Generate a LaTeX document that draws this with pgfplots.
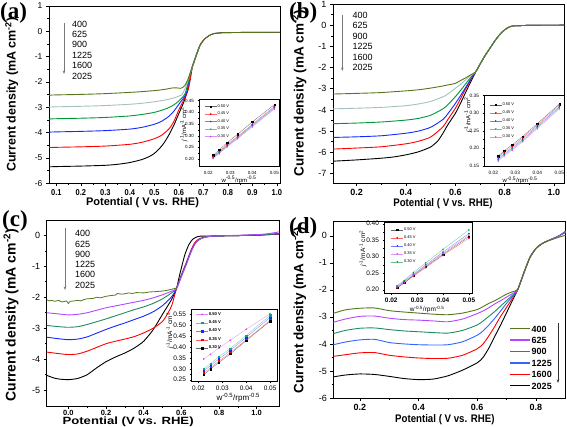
\documentclass[border=0pt]{standalone}
\usepackage{pgfplots}
\pgfplotsset{compat=1.18}
\usetikzlibrary{arrows.meta}
\usepackage{fontspec}
\setmainfont{Liberation Sans}
\newfontfamily\serifb{Liberation Serif}
\newfontfamily\widesans[FakeStretch=1.25]{Liberation Sans}
\newfontfamily\narrowsans[FakeStretch=0.88]{Liberation Sans}
\definecolor{olv}{RGB}{88,118,28}
\definecolor{lgt}{RGB}{165,192,192}
\definecolor{grn}{RGB}{0,150,55}
\definecolor{blu}{RGB}{20,40,255}
\definecolor{rd}{RGB}{255,0,0}
\definecolor{vio}{RGB}{180,70,255}
\definecolor{tea}{RGB}{30,140,95}
\definecolor{blu2}{RGB}{50,100,255}
\definecolor{tealm}{RGB}{0,165,125}
\definecolor{mag}{RGB}{200,70,235}
\definecolor{arrg}{RGB}{120,120,120}
\pgfplotsset{
  mainax/.style={scale only axis, anchor=south west, tick pos=left, tick align=outside,
    major tick length=3pt, minor tick length=1.6pt, minor tick num=1,
    axis line style={line width=0.6pt}, every tick/.style={black,line width=0.5pt},
    /pgf/number format/assume math mode=true,
    every axis plot/.append style={line width=0.9pt, no marks}},
  inset/.style={scale only axis, anchor=south west, tick pos=left, tick align=outside,
    major tick length=1.5pt, minor tick length=0.8pt, minor tick num=1,
    axis line style={line width=0.4pt}, every tick/.style={black,line width=0.3pt},
    axis background/.style={fill=white},
    /pgf/number format/assume math mode=true,
    scaled x ticks=false, scaled y ticks=false,
    xtick={0.02,0.03,0.04,0.05},
    xticklabel style={/pgf/number format/fixed, /pgf/number format/fixed zerofill, /pgf/number format/precision=2},
    yticklabel style={/pgf/number format/fixed, /pgf/number format/fixed zerofill, /pgf/number format/precision=2},
    legend cell align=left,
    legend image code/.code={\draw[mark repeat=2,mark phase=2,#1] plot coordinates {(0pt,0pt) (6pt,0pt) (12pt,0pt)};},
    every axis plot/.append style={line width=0.3pt, mark size=0.7pt}},
}
\begin{document}
\begin{tikzpicture}[x=1pt,y=1pt]
\path[use as bounding box] (0pt,0pt) rectangle (567pt,426pt);

% ===================== (a) =====================
\begin{axis}[mainax, at={(49pt,242.7pt)}, width=231pt, height=177.3pt,
 xmin=0.07, xmax=1.013, ymin=-6, ymax=1,
 xtick={0.1,0.2,0.3,0.4,0.5,0.6,0.7,0.8,0.9,1.0}, ytick={-6,-5,-4,-3,-2,-1,0,1},
 xticklabel style={font=\narrowsans\bfseries\fontsize{8.5}{9}\selectfont, /pgf/number format/fixed, /pgf/number format/fixed zerofill, /pgf/number format/precision=1},
 yticklabel style={font=\fontsize{8.5}{9}\selectfont},
 xlabel={Potential ( V vs. RHE)}, ylabel={Current density (mA cm\textsuperscript{-2})},
 xlabel style={font=\bfseries\fontsize{11}{12}\selectfont, at={(axis description cs:0.405,-0.109)}, anchor=center},
 ylabel style={font=\bfseries\fontsize{12.5}{13}\selectfont, at={(axis description cs:-0.161,0.5)}, anchor=center},
]
\addplot[black, smooth, tension=0.4] coordinates {(0.07,-5.35) (0.1,-5.34) (0.2,-5.32) (0.3,-5.29) (0.35,-5.25) (0.4,-5.18) (0.45,-5.06) (0.48,-4.94) (0.5,-4.82) (0.52,-4.64) (0.54,-4.4) (0.56,-4.08) (0.58,-3.7) (0.6,-3.25) (0.62,-2.8) (0.64,-2.2) (0.655,-1.4) (0.66,-1.26) (0.674,-0.87) (0.687,-0.54) (0.70,-0.36) (0.708,-0.28) (0.72,-0.19) (0.728,-0.145) (0.74,-0.1) (0.748,-0.08) (0.77,-0.06) (0.8,-0.05) (0.9,-0.04) (1.013,-0.035)};
\addplot[rd, smooth, tension=0.4] coordinates {(0.07,-4.59) (0.1,-4.58) (0.2,-4.56) (0.3,-4.53) (0.4,-4.46) (0.45,-4.38) (0.5,-4.24) (0.53,-4.1) (0.56,-3.85) (0.58,-3.55) (0.6,-3.1) (0.62,-2.7) (0.638,-2.3) (0.655,-1.4) (0.66,-1.26) (0.674,-0.87) (0.687,-0.54) (0.70,-0.36)};
\addplot[blu, smooth, tension=0.4] coordinates {(0.07,-3.98) (0.1,-3.97) (0.2,-3.95) (0.3,-3.92) (0.4,-3.86) (0.45,-3.79) (0.5,-3.67) (0.53,-3.55) (0.56,-3.35) (0.58,-3.15) (0.6,-2.88) (0.62,-2.62) (0.632,-2.4) (0.646,-1.68) (0.66,-1.26) (0.674,-0.87) (0.687,-0.54)};
\addplot[grn, smooth, tension=0.4] coordinates {(0.07,-3.46) (0.1,-3.45) (0.2,-3.43) (0.3,-3.4) (0.4,-3.34) (0.45,-3.28) (0.5,-3.2) (0.55,-3.05) (0.58,-2.9) (0.6,-2.75) (0.626,-2.45) (0.646,-1.68) (0.66,-1.26) (0.674,-0.87) (0.687,-0.54)};
\addplot[lgt, smooth, tension=0.4] coordinates {(0.07,-2.99) (0.1,-2.98) (0.2,-2.96) (0.3,-2.93) (0.4,-2.88) (0.45,-2.84) (0.5,-2.78) (0.55,-2.7) (0.58,-2.63) (0.6,-2.56) (0.613,-2.5) (0.63,-2.15) (0.646,-1.68) (0.66,-1.26) (0.674,-0.87) (0.687,-0.54)};
\addplot[olv, smooth, tension=0.4] coordinates {(0.07,-2.52) (0.1,-2.51) (0.2,-2.49) (0.3,-2.46) (0.4,-2.41) (0.45,-2.38) (0.5,-2.34) (0.52,-2.32) (0.55,-2.28) (0.57,-2.24) (0.59,-2.23) (0.606,-2.25) (0.615,-2.22) (0.626,-2.12) (0.636,-1.92) (0.646,-1.66) (0.66,-1.26) (0.674,-0.87) (0.687,-0.54) (0.70,-0.36) (0.708,-0.28) (0.72,-0.19) (0.728,-0.145) (0.74,-0.1) (0.748,-0.08) (0.77,-0.06) (0.8,-0.05) (0.9,-0.04) (1.013,-0.035)};
\end{axis}
\begin{axis}[inset, at={(199pt,260pt)}, width=80pt, height=67pt,
 xmin=0.0158, xmax=0.0521, ymin=0.17, ymax=0.457,
 ytick={0.20,0.25,0.30,0.35,0.40,0.45},
 tick label style={font=\fontsize{4.5}{5}\selectfont},
 xlabel={w\textsuperscript{-0.5}/rpm\textsuperscript{-0.5}}, ylabel={\textit{j}\textsuperscript{-1}/mA\textsuperscript{-1} cm\textsuperscript{2}},
 xlabel style={font=\fontsize{6}{6}\selectfont, at={(axis description cs:0.5,-0.21)}, anchor=center},
 ylabel style={font=\fontsize{6}{6}\selectfont, at={(axis description cs:-0.19,0.62)}, anchor=center},
 legend style={draw=none, fill=none, at={(0.03,0.96)}, anchor=north west, font=\fontsize{4}{4.5}\selectfont, row sep=2pt, nodes={inner sep=0.6pt}},
]
\addplot[black, draw opacity=0.6, mark=square*, mark options={draw opacity=1}] coordinates {(0.02222,0.216) (0.025,0.239) (0.02857,0.270) (0.03333,0.306) (0.04,0.359) (0.05,0.433)};
\addlegendentry{0.50 V}
\addplot[rd, draw opacity=0.6, mark=*, mark options={draw opacity=1}] coordinates {(0.02222,0.210) (0.025,0.232) (0.02857,0.262) (0.03333,0.297) (0.04,0.349) (0.05,0.425)};
\addlegendentry{0.45 V}
\addplot[blu, draw opacity=0.6, mark=triangle*, mark options={draw opacity=1}] coordinates {(0.02222,0.207) (0.025,0.229) (0.02857,0.258) (0.03333,0.293) (0.04,0.345) (0.05,0.421)};
\addlegendentry{0.40 V}
\addplot[tealm, draw opacity=0.6, mark=triangle*, mark options={draw opacity=1, rotate=180}] coordinates {(0.02222,0.205) (0.025,0.226) (0.02857,0.255) (0.03333,0.290) (0.04,0.341) (0.05,0.417)};
\addlegendentry{0.35 V}
\addplot[mag, draw opacity=0.6, mark=diamond*, mark options={draw opacity=1}] coordinates {(0.02222,0.202) (0.025,0.223) (0.02857,0.252) (0.03333,0.287) (0.04,0.338) (0.05,0.414)};
\addlegendentry{0.30 V}
\end{axis}

% ===================== (b) =====================
\begin{axis}[mainax, at={(333pt,243pt)}, width=231pt, height=179pt,
 xmin=0.104, xmax=1.041, ymin=-7.45, ymax=1,
 xtick={0.2,0.4,0.6,0.8,1.0}, ytick={-7,-6,-5,-4,-3,-2,-1,0,1},
 xticklabel style={font=\bfseries\fontsize{9}{10}\selectfont, /pgf/number format/fixed, /pgf/number format/fixed zerofill, /pgf/number format/precision=1},
 yticklabel style={font=\fontsize{9}{10}\selectfont},
 xlabel={Potential ( V vs. RHE)}, ylabel={Current density (mA cm\textsuperscript{-2})},
 xlabel style={font=\narrowsans\bfseries\fontsize{11}{12}\selectfont, at={(axis description cs:0.476,-0.118)}, anchor=center},
 ylabel style={font=\bfseries\fontsize{13.5}{14}\selectfont, at={(axis description cs:-0.147,0.5)}, anchor=center},
]
\addplot[black, smooth, tension=0.4] coordinates {(0.104,-6.42) (0.2,-6.36) (0.3,-6.28) (0.35,-6.22) (0.4,-6.12) (0.45,-5.98) (0.5,-5.75) (0.53,-5.45) (0.55,-5.1) (0.57,-4.7) (0.6,-4.17) (0.62,-3.72) (0.64,-3.22) (0.66,-2.74) (0.683,-2.2) (0.70,-1.85) (0.72,-1.45) (0.74,-1.1) (0.76,-0.75) (0.78,-0.45) (0.80,-0.22) (0.82,-0.08) (0.84,-0.03) (0.9,-0.01) (1.041,0.0)};
\addplot[rd, smooth, tension=0.4] coordinates {(0.104,-5.85) (0.2,-5.8) (0.3,-5.74) (0.4,-5.6) (0.45,-5.48) (0.5,-5.28) (0.55,-4.8) (0.57,-4.45) (0.6,-3.93) (0.62,-3.5) (0.64,-3.05) (0.66,-2.65) (0.683,-2.2) (0.70,-1.85) (0.72,-1.45) (0.74,-1.1) (0.76,-0.75) (0.78,-0.45) (0.80,-0.22) (0.82,-0.08) (0.84,-0.03) (0.9,-0.01) (1.041,0.0)};
\addplot[blu, smooth, tension=0.4] coordinates {(0.104,-5.3) (0.2,-5.27) (0.3,-5.22) (0.4,-5.1) (0.45,-5.0) (0.5,-4.82) (0.55,-4.45) (0.57,-4.18) (0.6,-3.7) (0.62,-3.35) (0.64,-2.98) (0.66,-2.6) (0.683,-2.2) (0.70,-1.85) (0.72,-1.45) (0.74,-1.1) (0.76,-0.75) (0.78,-0.45) (0.80,-0.22) (0.82,-0.08) (0.84,-0.03) (0.9,-0.01) (1.041,0.0)};
\addplot[grn, smooth, tension=0.4] coordinates {(0.104,-4.65) (0.2,-4.62) (0.3,-4.57) (0.4,-4.48) (0.45,-4.4) (0.5,-4.25) (0.55,-3.95) (0.57,-3.75) (0.6,-3.38) (0.62,-3.1) (0.64,-2.8) (0.66,-2.5) (0.683,-2.2) (0.70,-1.85) (0.72,-1.45) (0.74,-1.1) (0.76,-0.75) (0.78,-0.45) (0.80,-0.22) (0.82,-0.08) (0.84,-0.03) (0.9,-0.01) (1.041,0.0)};
\addplot[lgt, smooth, tension=0.4] coordinates {(0.104,-3.95) (0.2,-3.92) (0.3,-3.88) (0.4,-3.8) (0.45,-3.72) (0.5,-3.6) (0.55,-3.38) (0.57,-3.25) (0.6,-2.98) (0.62,-2.8) (0.64,-2.6) (0.66,-2.4) (0.683,-2.2) (0.70,-1.85) (0.72,-1.45) (0.74,-1.1) (0.76,-0.75) (0.78,-0.45) (0.80,-0.22) (0.82,-0.08) (0.84,-0.03) (0.9,-0.01) (1.041,0.0)};
\addplot[olv, smooth, tension=0.4] coordinates {(0.104,-3.25) (0.2,-3.22) (0.3,-3.18) (0.4,-3.1) (0.45,-3.05) (0.5,-2.97) (0.55,-2.87) (0.57,-2.82) (0.6,-2.75) (0.62,-2.62) (0.64,-2.5) (0.66,-2.36) (0.683,-2.2) (0.70,-1.85) (0.72,-1.45) (0.74,-1.1) (0.76,-0.75) (0.78,-0.45) (0.80,-0.22) (0.82,-0.08) (0.84,-0.03) (0.9,-0.01) (1.041,0.0)};
\end{axis}
\begin{axis}[inset, at={(484pt,260pt)}, width=80pt, height=71pt,
 xmin=0.0158, xmax=0.0521, ymin=0.15, ymax=0.351,
 ytick={0.15,0.20,0.25,0.30,0.35},
 tick label style={font=\fontsize{4.8}{5}\selectfont},
 xlabel={w\textsuperscript{-0.5}/rpm\textsuperscript{-0.5}}, ylabel={\textit{j}\textsuperscript{-1}/mA\textsuperscript{-1} cm\textsuperscript{2}},
 xlabel style={font=\fontsize{6}{6}\selectfont, at={(axis description cs:0.45,-0.2)}, anchor=center},
 ylabel style={font=\fontsize{6}{6}\selectfont, at={(axis description cs:-0.2,0.72)}, anchor=center},
 legend style={draw=none, fill=none, at={(0.03,0.93)}, anchor=north west, font=\fontsize{4}{4.5}\selectfont, row sep=2.5pt, nodes={inner sep=0.6pt}},
]
\addplot[black, draw opacity=0.6, mark=square*, mark options={draw opacity=1}] coordinates {(0.02222,0.178) (0.025,0.1936) (0.02857,0.21) (0.03333,0.2335) (0.04,0.27) (0.05,0.3255)};
\addlegendentry{0.50 V}
\addplot[rd, draw opacity=0.6, mark=*, mark options={draw opacity=1}] coordinates {(0.02222,0.174) (0.025,0.189) (0.02857,0.205) (0.03333,0.229) (0.04,0.266) (0.05,0.322)};
\addlegendentry{0.45 V}
\addplot[blu, draw opacity=0.6, mark=triangle*, mark options={draw opacity=1}] coordinates {(0.02222,0.170) (0.025,0.185) (0.02857,0.201) (0.03333,0.225) (0.04,0.262) (0.05,0.318)};
\addlegendentry{0.40 V}
\addplot[tealm, draw opacity=0.6, mark=triangle*, mark options={draw opacity=1, rotate=180}] coordinates {(0.02222,0.167) (0.025,0.182) (0.02857,0.198) (0.03333,0.222) (0.04,0.259) (0.05,0.315)};
\addlegendentry{0.35 V}
\addplot[mag, draw opacity=0.6, mark=diamond*, mark options={draw opacity=1}] coordinates {(0.02222,0.164) (0.025,0.179) (0.02857,0.195) (0.03333,0.219) (0.04,0.256) (0.05,0.312)};
\addlegendentry{0.30 V}
\end{axis}

% ===================== (c) =====================
\begin{axis}[mainax, at={(46.7pt,19.7pt)}, width=232.6pt, height=185.6pt,
 xmin=-0.115, xmax=1.12, ymin=-5.52, ymax=0.47,
 xtick={0,0.2,0.4,0.6,0.8,1.0}, ytick={-5,-4,-3,-2,-1,0},
 xticklabel style={font=\bfseries\fontsize{7.5}{8}\selectfont, yshift=2.2pt, /pgf/number format/fixed, /pgf/number format/fixed zerofill, /pgf/number format/precision=1},
 yticklabel style={font=\fontsize{9}{10}\selectfont},
 xlabel={Potential (V vs. RHE)}, ylabel={Current density (mA cm\textsuperscript{-2})},
 xlabel style={font=\widesans\bfseries\fontsize{10.5}{11}\selectfont, at={(axis description cs:0.35,-0.085)}, anchor=center},
 ylabel style={font=\bfseries\fontsize{14}{15}\selectfont, at={(axis description cs:-0.153,0.49)}, anchor=center},
]
\addplot[black, smooth, tension=0.4] coordinates {(-0.115,-4.52) (-0.08,-4.6) (-0.05,-4.64) (0.0,-4.66) (0.05,-4.62) (0.1,-4.5) (0.15,-4.28) (0.2,-4.08) (0.25,-3.93) (0.3,-3.8) (0.35,-3.64) (0.4,-3.42) (0.45,-3.05) (0.5,-2.55) (0.55,-2.05) (0.575,-1.7) (0.59,-1.3) (0.607,-0.89) (0.62,-0.6) (0.64,-0.3) (0.66,-0.13) (0.68,-0.06) (0.70,-0.03) (0.8,-0.02) (0.9,-0.01) (1.0,0.0) (1.12,0.04)};
\addplot[rd, smooth, tension=0.4] coordinates {(-0.115,-3.77) (-0.05,-3.82) (0.0,-3.85) (0.05,-3.83) (0.1,-3.74) (0.15,-3.62) (0.2,-3.5) (0.25,-3.42) (0.3,-3.35) (0.35,-3.27) (0.4,-3.15) (0.45,-3.0) (0.5,-2.78) (0.53,-2.5) (0.55,-2.25) (0.575,-1.7) (0.6,-1.28) (0.628,-0.85) (0.65,-0.5) (0.67,-0.25) (0.69,-0.13) (0.72,-0.06) (0.76,-0.03) (0.8,-0.02) (0.9,-0.01) (1.0,0.01) (1.06,0.02) (1.12,0.04)};
\addplot[blu, smooth, tension=0.4] coordinates {(-0.115,-3.29) (-0.05,-3.34) (0.0,-3.37) (0.05,-3.35) (0.1,-3.28) (0.15,-3.16) (0.2,-3.04) (0.25,-2.93) (0.3,-2.83) (0.35,-2.72) (0.4,-2.61) (0.45,-2.47) (0.5,-2.27) (0.55,-1.97) (0.575,-1.7) (0.6,-1.3) (0.628,-0.88) (0.65,-0.53) (0.67,-0.28) (0.69,-0.15) (0.72,-0.07) (0.76,-0.03) (0.8,-0.02) (0.9,-0.01) (1.0,0.01) (1.06,0.03) (1.12,0.05)};
\addplot[tea, smooth, tension=0.4] coordinates {(-0.115,-2.91) (-0.05,-2.95) (0.0,-2.97) (0.05,-2.95) (0.1,-2.88) (0.15,-2.79) (0.2,-2.7) (0.25,-2.6) (0.3,-2.5) (0.35,-2.4) (0.4,-2.31) (0.45,-2.2) (0.5,-2.05) (0.55,-1.85) (0.575,-1.7) (0.6,-1.32) (0.628,-0.9) (0.65,-0.55) (0.67,-0.3) (0.69,-0.16) (0.72,-0.07) (0.76,-0.03) (0.8,-0.02) (0.9,-0.01) (1.0,0.01) (1.06,0.03) (1.12,0.05)};
\addplot[vio, smooth, tension=0.4] coordinates {(-0.115,-2.5) (-0.05,-2.54) (0.0,-2.57) (0.05,-2.55) (0.1,-2.5) (0.15,-2.42) (0.2,-2.34) (0.25,-2.28) (0.3,-2.22) (0.35,-2.16) (0.4,-2.1) (0.45,-2.02) (0.5,-1.92) (0.55,-1.8) (0.575,-1.72) (0.6,-1.34) (0.628,-0.92) (0.65,-0.56) (0.67,-0.3) (0.69,-0.16) (0.72,-0.07) (0.76,-0.03) (0.8,-0.02) (0.9,0.0) (1.0,0.02) (1.06,0.05) (1.12,0.11)};
\addplot[olv, line width=0.8pt] coordinates {(-0.115,-2.08) (-0.1,-2.12) (-0.09,-2.1) (-0.07,-2.13) (-0.05,-2.1) (-0.04,-2.14) (-0.03,-2.15) (-0.01,-2.12) (0.0,-2.2) (0.01,-2.13) (0.03,-2.12) (0.05,-2.1) (0.065,-2.12) (0.08,-2.08) (0.1,-2.05) (0.13,-2.04) (0.15,-2.0) (0.17,-2.02) (0.2,-1.97) (0.22,-1.95) (0.25,-1.93) (0.26,-1.88) (0.28,-1.9) (0.3,-1.89) (0.32,-1.86) (0.34,-1.88) (0.36,-1.85) (0.4,-1.86) (0.43,-1.83) (0.46,-1.82) (0.5,-1.8) (0.53,-1.77) (0.55,-1.74) (0.575,-1.7)};
\end{axis}
\begin{axis}[inset, at={(191pt,45pt)}, width=86pt, height=72pt,
 xmin=0.0169, xmax=0.0529, ymin=0.244, ymax=0.574,
 ytick={0.25,0.30,0.35,0.40,0.45,0.50,0.55},
 tick label style={font=\fontsize{6.5}{7}\selectfont},
 xlabel={w\textsuperscript{-0.5}/rpm\textsuperscript{-0.5}}, ylabel={\textit{j}\textsuperscript{-1}/mA\textsuperscript{-1} cm\textsuperscript{2}},
 xlabel style={font=\fontsize{8}{8}\selectfont, at={(axis description cs:0.55,-0.235)}, anchor=center},
 ylabel style={font=\fontsize{6.5}{7}\selectfont, at={(axis description cs:-0.245,0.7)}, anchor=center},
 legend style={draw=none, fill=none, at={(0.02,0.995)}, anchor=north west, font=\bfseries\fontsize{4.2}{4.5}\selectfont, row sep=2.8pt, nodes={inner sep=0.6pt}},
]
\addplot[mag, draw opacity=0.6, mark=*, mark options={draw opacity=1}] coordinates {(0.02222,0.345) (0.025,0.366) (0.02857,0.395) (0.03333,0.431) (0.04,0.481) (0.05,0.552)};
\addlegendentry{0.50 V}
\addplot[tealm, draw opacity=0.6, mark=square*, mark options={draw opacity=1}] coordinates {(0.02222,0.300) (0.025,0.323) (0.02857,0.355) (0.03333,0.393) (0.04,0.452) (0.05,0.545)};
\addlegendentry{0.45 V}
\addplot[blu, draw opacity=0.6, mark=square*, mark options={draw opacity=1}] coordinates {(0.02222,0.290) (0.025,0.314) (0.02857,0.345) (0.03333,0.384) (0.04,0.444) (0.05,0.535)};
\addlegendentry{0.40 V}
\addplot[rd, draw opacity=0.6, mark=square*, mark options={draw opacity=1}] coordinates {(0.02222,0.280) (0.025,0.305) (0.02857,0.335) (0.03333,0.374) (0.04,0.433) (0.05,0.522)};
\addlegendentry{0.35 V}
\addplot[black, draw opacity=0.6, mark=square*, mark options={draw opacity=1}] coordinates {(0.02222,0.273) (0.025,0.298) (0.02857,0.329) (0.03333,0.368) (0.04,0.429) (0.05,0.518)};
\addlegendentry{0.30 V}
\end{axis}

% ===================== (d) =====================
\begin{axis}[mainax, at={(333.3pt,28pt)}, width=232.4pt, height=176.3pt,
 xmin=0.109, xmax=0.902, ymin=-6, ymax=0.52,
 xtick={0.2,0.4,0.6,0.8}, ytick={-6,-5,-4,-3,-2,-1,0},
 xticklabel style={font=\bfseries\fontsize{9}{10}\selectfont, /pgf/number format/fixed, /pgf/number format/fixed zerofill, /pgf/number format/precision=1},
 yticklabel style={font=\fontsize{9}{10}\selectfont},
 xlabel={Potential ( V vs. RHE)}, ylabel={Current density (mA cm\textsuperscript{-2})},
 xlabel style={font=\narrowsans\bfseries\fontsize{11}{12}\selectfont, at={(axis description cs:0.48,-0.122)}, anchor=center},
 ylabel style={font=\bfseries\fontsize{13.5}{14}\selectfont, at={(axis description cs:-0.148,0.5)}, anchor=center},
 reverse legend,
 legend style={draw=none, fill=none, at={(0.745,0.43)}, anchor=north west, font=\bfseries\fontsize{9}{10}\selectfont, row sep=2.8pt, nodes={inner sep=0.8pt, text height=7pt, text depth=0pt}},
 legend cell align=left,
 legend image code/.code={\draw[#1, line width=1.3pt] (0pt,0pt) -- (20pt,0pt);},
]
\addplot[black, smooth, tension=0.4] coordinates {(0.109,-5.22) (0.15,-5.15) (0.2,-5.11) (0.25,-5.13) (0.3,-5.2) (0.35,-5.28) (0.4,-5.32) (0.45,-5.3) (0.5,-5.18) (0.55,-4.97) (0.6,-4.7) (0.62,-4.5) (0.64,-4.15) (0.66,-3.72) (0.68,-3.3) (0.7,-2.85) (0.72,-2.4) (0.738,-2.0) (0.76,-1.35) (0.78,-0.8) (0.8,-0.48) (0.82,-0.3) (0.84,-0.19) (0.86,-0.1) (0.88,0.0) (0.902,0.15)};
\addlegendentry{2025}
\addplot[rd, smooth, tension=0.4] coordinates {(0.109,-4.46) (0.15,-4.4) (0.2,-4.33) (0.25,-4.32) (0.3,-4.42) (0.35,-4.48) (0.4,-4.52) (0.45,-4.54) (0.5,-4.53) (0.55,-4.42) (0.6,-4.18) (0.62,-4.0) (0.64,-3.7) (0.66,-3.35) (0.68,-2.98) (0.7,-2.65) (0.72,-2.32) (0.738,-2.0) (0.76,-1.35) (0.78,-0.8) (0.8,-0.48) (0.82,-0.3) (0.84,-0.19) (0.86,-0.1) (0.88,0.0) (0.902,0.14)};
\addlegendentry{1600}
\addplot[blu2, smooth, tension=0.4] coordinates {(0.109,-4.03) (0.15,-3.93) (0.2,-3.85) (0.25,-3.83) (0.3,-3.95) (0.35,-4.0) (0.4,-4.03) (0.45,-4.04) (0.5,-4.03) (0.55,-3.92) (0.6,-3.68) (0.62,-3.52) (0.64,-3.3) (0.66,-3.05) (0.68,-2.78) (0.7,-2.5) (0.72,-2.25) (0.738,-2.0) (0.76,-1.35) (0.78,-0.8) (0.8,-0.48) (0.82,-0.3) (0.84,-0.19) (0.86,-0.1) (0.88,0.0) (0.902,0.16)};
\addlegendentry{1225}
\addplot[tea, smooth, tension=0.4] coordinates {(0.109,-3.62) (0.15,-3.5) (0.2,-3.42) (0.25,-3.41) (0.3,-3.47) (0.35,-3.52) (0.4,-3.55) (0.45,-3.58) (0.5,-3.6) (0.55,-3.5) (0.6,-3.3) (0.62,-3.15) (0.64,-2.98) (0.66,-2.8) (0.68,-2.6) (0.7,-2.4) (0.72,-2.2) (0.738,-2.0) (0.76,-1.35) (0.78,-0.8) (0.8,-0.48) (0.82,-0.3) (0.84,-0.19) (0.86,-0.1) (0.88,0.0) (0.902,0.18)};
\addlegendentry{900}
\addplot[vio, smooth, tension=0.4] coordinates {(0.109,-3.2) (0.15,-3.08) (0.2,-2.98) (0.25,-2.97) (0.3,-3.05) (0.35,-3.1) (0.4,-3.12) (0.45,-3.15) (0.5,-3.18) (0.55,-3.08) (0.6,-2.88) (0.62,-2.78) (0.64,-2.66) (0.66,-2.52) (0.68,-2.4) (0.7,-2.27) (0.72,-2.14) (0.738,-2.0) (0.76,-1.35) (0.78,-0.8) (0.8,-0.48) (0.82,-0.3) (0.84,-0.19) (0.86,-0.1) (0.88,0.0) (0.902,0.12)};
\addlegendentry{625}
\addplot[olv, smooth, tension=0.4] coordinates {(0.109,-2.87) (0.15,-2.74) (0.2,-2.68) (0.25,-2.67) (0.3,-2.77) (0.35,-2.82) (0.4,-2.86) (0.45,-2.9) (0.5,-2.92) (0.55,-2.86) (0.6,-2.73) (0.62,-2.62) (0.64,-2.5) (0.66,-2.4) (0.68,-2.28) (0.7,-2.16) (0.72,-2.07) (0.738,-1.98) (0.76,-1.35) (0.78,-0.8) (0.8,-0.48) (0.82,-0.3) (0.84,-0.2) (0.86,-0.12) (0.88,-0.05) (0.902,0.02)};
\addlegendentry{400}
\end{axis}
\begin{axis}[inset, at={(384pt,133pt)}, width=88pt, height=71pt,
 xmin=0.0172, xmax=0.0512, ymin=0.19, ymax=0.405,
 ytick={0.20,0.25,0.30,0.35,0.40},
 tick label style={font=\fontsize{6.5}{7}\selectfont},
 xticklabel style={font=\bfseries\fontsize{6.5}{7}\selectfont},
 xlabel={w\textsuperscript{-0.5}/rpm\textsuperscript{-0.5}}, ylabel={\textit{j}\textsuperscript{-1}/mA\textsuperscript{-1} cm\textsuperscript{2}},
 xlabel style={font=\fontsize{6.5}{7}\selectfont, at={(axis description cs:0.49,-0.235)}, anchor=center},
 ylabel style={font=\fontsize{6.5}{7}\selectfont, at={(axis description cs:-0.24,0.63)}, anchor=center},
 legend style={draw=none, fill=none, at={(0.045,0.96)}, anchor=north west, font=\fontsize{4}{4.5}\selectfont, row sep=2.5pt, nodes={inner sep=0.6pt}},
]
\addplot[black, draw opacity=0.6, mark=square*, mark options={draw opacity=1}] coordinates {(0.02222,0.206) (0.025,0.221) (0.02857,0.243) (0.03333,0.270) (0.04,0.307) (0.05,0.361)};
\addlegendentry{0.50 V}
\addplot[rd, draw opacity=0.6, mark=*, mark options={draw opacity=1}] coordinates {(0.02222,0.205) (0.025,0.220) (0.02857,0.241) (0.03333,0.267) (0.04,0.304) (0.05,0.356)};
\addlegendentry{0.45 V}
\addplot[blu, draw opacity=0.6, mark=triangle*, mark options={draw opacity=1}] coordinates {(0.02222,0.209) (0.025,0.225) (0.02857,0.247) (0.03333,0.275) (0.04,0.314) (0.05,0.370)};
\addlegendentry{0.40 V}
\addplot[mag, draw opacity=0.6, mark=triangle*, mark options={draw opacity=1, rotate=180}] coordinates {(0.02222,0.208) (0.025,0.223) (0.02857,0.245) (0.03333,0.272) (0.04,0.310) (0.05,0.365)};
\addlegendentry{0.35 V}
\addplot[grn, draw opacity=0.6, mark=diamond*, mark options={draw opacity=1}] coordinates {(0.02222,0.212) (0.025,0.228) (0.02857,0.252) (0.03333,0.281) (0.04,0.322) (0.05,0.381)};
\addlegendentry{0.30 V}
\end{axis}

% ===================== annotations =====================
\node[anchor=north west, inner sep=0pt, align=left, font=\fontsize{9}{10.4}\selectfont] at (72pt,405.4pt) {400\\625\\900\\1225\\1600\\2025};
\draw[arrg, line width=0.5pt, -{Stealth[length=3.5pt,width=2.5pt]}] (64pt,403pt) -- (64pt,352pt);
\node[anchor=north west, inner sep=0pt, align=left, font=\fontsize{9}{10.5}\selectfont] at (352.3pt,414.4pt) {400\\625\\900\\1225\\1600\\2025};
\draw[arrg, line width=0.5pt, -{Stealth[length=3.5pt,width=2.5pt]}] (342.3pt,411pt) -- (342.3pt,355pt);
\node[anchor=north west, inner sep=0pt, align=left, font=\fontsize{9}{10.3}\selectfont] at (75pt,195.7pt) {400\\625\\900\\1225\\1600\\2025};
\draw[arrg, line width=0.5pt, -{Stealth[length=3.5pt,width=2.5pt]}] (65pt,198pt) -- (65pt,136pt);
\draw[black!80, line width=0.6pt, -{Stealth[length=3.5pt,width=2.5pt]}] (558pt,103pt) -- (558pt,43pt);
\node[anchor=base west, inner sep=0pt, font=\serifb\bfseries\fontsize{23}{23}\selectfont] at (0pt,407.5pt) {(a)};
\node[anchor=base west, inner sep=0pt, font=\serifb\bfseries\fontsize{23}{23}\selectfont] at (289pt,407pt) {(b)};
\node[anchor=base west, inner sep=0pt, font=\serifb\bfseries\fontsize{23}{23}\selectfont] at (2pt,199.7pt) {(c)};
\node[anchor=base west, inner sep=0pt, font=\serifb\bfseries\fontsize{23}{23}\selectfont] at (289pt,192.3pt) {(d)};
\end{tikzpicture}
\end{document}
